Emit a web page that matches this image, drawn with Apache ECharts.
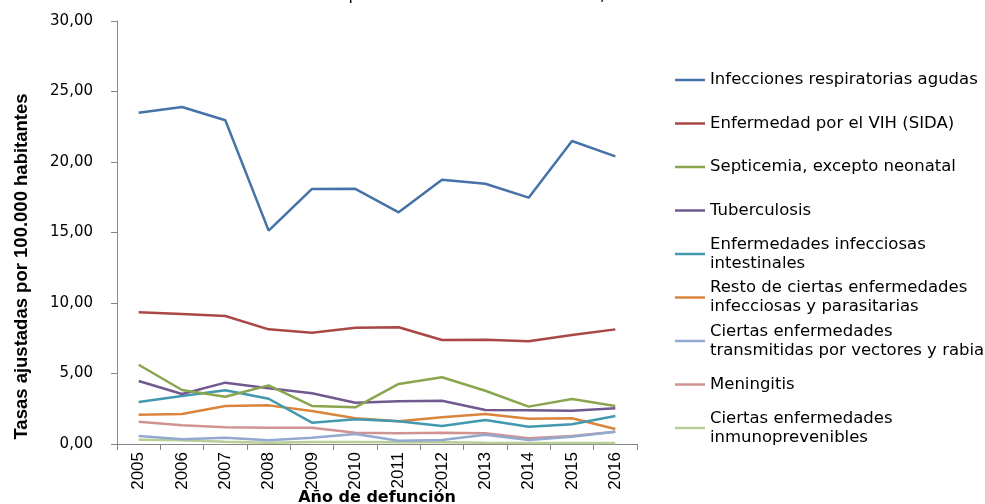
<!DOCTYPE html>
<html>
<head>
<meta charset="utf-8">
<script src="https://cdn.jsdelivr.net/npm/echarts@6/dist/echarts.min.js"></script>
<style>
  html, body { margin: 0; padding: 0; background: #fff; }
  #chart { width: 985px; height: 504px; }
</style>
</head>
<body>
<div id="chart"></div>
<script>
// --- data ---
var years = ['2005', '2006', '2007', '2008', '2009', '2010', '2011', '2012', '2013', '2014', '2015', '2016'];

var names = [
  'Infecciones respiratorias agudas',
  'Enfermedad por el VIH (SIDA)',
  'Septicemia, excepto neonatal',
  'Tuberculosis',
  'Enfermedades infecciosas\nintestinales',
  'Resto de ciertas enfermedades\ninfecciosas y parasitarias',
  'Ciertas enfermedades\ntransmitidas por vectores y rabia',
  'Meningitis',
  'Ciertas enfermedades\ninmunoprevenibles'
];

var ira       = [23.50, 23.90, 22.96, 15.13, 18.09, 18.10, 16.43, 18.74, 18.46, 17.47, 21.49, 20.40];
var vih       = [9.34, 9.22, 9.08, 8.13, 7.89, 8.25, 8.28, 7.38, 7.40, 7.28, 7.73, 8.13];
var septi     = [5.62, 3.83, 3.35, 4.16, 2.70, 2.60, 4.26, 4.73, 3.78, 2.65, 3.19, 2.70];
var tuberc    = [4.47, 3.55, 4.35, 3.95, 3.60, 2.93, 3.03, 3.07, 2.41, 2.39, 2.36, 2.53];
var intest    = [2.98, 3.40, 3.81, 3.21, 1.51, 1.75, 1.61, 1.28, 1.70, 1.23, 1.40, 1.99];
var resto     = [2.08, 2.13, 2.70, 2.74, 2.34, 1.82, 1.61, 1.89, 2.13, 1.79, 1.82, 1.06];
var vectores  = [0.57, 0.33, 0.45, 0.26, 0.45, 0.71, 0.23, 0.28, 0.66, 0.28, 0.52, 0.87];
var mening    = [1.58, 1.33, 1.18, 1.16, 1.16, 0.80, 0.76, 0.80, 0.76, 0.40, 0.57, 0.87];
var inmuno    = [0.30, 0.26, 0.16, 0.09, 0.14, 0.14, 0.12, 0.12, 0.09, 0.07, 0.07, 0.07];

var values = [ira, vih, septi, tuberc, intest, resto, vectores, mening, inmuno];
var colors = ['#4572A7', '#AA4643', '#89A54E', '#71588F', '#4198AF', '#DB843D', '#93A9CF', '#D19392', '#B9CD96'];

var wide = '"DejaVu Sans", "Liberation Sans", sans-serif';
var arial = '"Liberation Sans", Arial, sans-serif';

var chart = echarts.init(document.getElementById('chart'), null, { renderer: 'canvas' });

var series = names.map(function (n, i) {
  return {
    name: n, type: 'line', data: values[i], symbol: 'none',
    lineStyle: { color: colors[i], width: 2.5 }, itemStyle: { color: colors[i] },
    z: 20 - i
  };
});

// one legend per row so the icon sits on the first text line, like the original
var lineH = 19;
var legends = names.map(function (n, i) {
  var twoLines = n.indexOf('\n') >= 0;
  var yc = 80 + i * 43.5;
  return {
    data: [{ name: n, icon: 'rect' }], orient: 'vertical', left: 675,
    top: yc - (twoLines ? lineH * 1.5 : lineH / 2),
    padding: 0, itemWidth: 30, itemHeight: 2.5, selectedMode: false,
    textStyle: {
      fontFamily: wide, fontSize: 16.5, color: '#000', lineHeight: lineH,
      padding: twoLines ? [lineH, 0, 0, 0] : 0
    }
  };
});

chart.setOption({
  animation: false,
  title: {
    text: 'Departamento del Valle del Cauca, 2005 - 2016',
    left: 512, textAlign: 'center', top: -17,
    textStyle: { fontFamily: wide, fontSize: 16, fontWeight: 'normal', color: '#000' }
  },
  legend: legends,
  grid: { left: 117, right: 348, top: 21, bottom: 60, outerBoundsMode: 'none', containLabel: false },
  xAxis: {
    type: 'category', data: years, boundaryGap: true,
    name: 'Año de defunción', nameLocation: 'middle', nameGap: 46, nameMoveOverlap: false,
    nameTextStyle: { fontFamily: wide, fontSize: 16, fontWeight: 'bold', color: '#000' },
    axisLine: { lineStyle: { color: '#868686', width: 1 } },
    axisTick: { show: true, length: 6, alignWithLabel: false, lineStyle: { color: '#868686' } },
    axisLabel: { rotate: 90, margin: 8, fontFamily: arial, fontSize: 17, color: '#000' }
  },
  yAxis: {
    type: 'value', min: 0, max: 30, interval: 5,
    name: 'Tasas ajustadas por 100.000 habitantes', nameLocation: 'middle', nameGap: 86, nameRotate: 90,
    nameMoveOverlap: false,
    nameTextStyle: { fontFamily: arial, fontSize: 18.5, fontWeight: 'bold', color: '#000', padding: [0, 68, 0, 0] },
    axisLine: { show: true, lineStyle: { color: '#868686', width: 1 } },
    axisTick: { show: true, length: 6, lineStyle: { color: '#868686' } },
    splitLine: { show: false },
    axisLabel: {
      margin: 24, fontFamily: wide, fontSize: 15, color: '#000',
      formatter: function (v) { return v.toFixed(2).replace('.', ','); }
    }
  },
  series: series
});
</script>
</body>
</html>
